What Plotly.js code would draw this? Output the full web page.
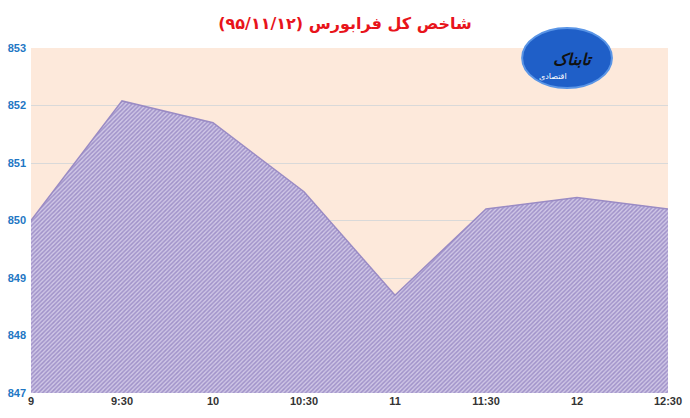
<!DOCTYPE html>
<html><head><meta charset="utf-8">
<script src="https://cdn.plot.ly/plotly-3.0.1.min.js"></script>
<style>html,body{margin:0;padding:0;background:#fff}#c{width:690px;height:418px}</style>
</head><body><div id="c"></div>
<script>
var times = ['9','9:30','10','10:30','11','11:30','12','12:30'];
var values = [850.0, 852.08, 851.7, 850.5, 848.7, 850.2, 850.4, 850.2];
var yTicks = [847, 848, 849, 850, 851, 852, 853];
var titleText = 'شاخص کل فرابورس (۹۵/۱۱/۱۲)';
var logoText = 'تابناک';
var logoSub = 'اقتصادی';

var trace = {
  x: times, y: values, type: 'scatter', mode: 'lines',
  fill: 'tozeroy',
  line: {color: '#9a8bc4', width: 1.5},
  fillcolor: '#cbc1e3',
  fillpattern: {shape: '/', bgcolor: '#d0c7e6', fgcolor: '#a092c9', size: 3, solidity: 0.5},
  hoverinfo: 'skip'
};
var layout = {
  width: 690, height: 418,
  margin: {l: 31, r: 22, t: 48, b: 25},
  paper_bgcolor: '#ffffff', plot_bgcolor: '#fde9db',
  showlegend: false,
  title: {text: titleText, x: 0.5, xanchor: 'center', y: 0.945, yanchor: 'middle',
          font: {family: 'DejaVu Sans', size: 16, color: '#e8141b', weight: 'bold'}},
  xaxis: {type: 'category', range: [0, 7], showgrid: false, zeroline: false,
          showline: false, ticks: '', ticklen: 0,
          tickfont: {family: 'Liberation Sans Narrow, Liberation Sans', size: 11, color: '#333333', weight: 'bold'}},
  yaxis: {range: [847, 853], tickvals: yTicks, showgrid: true, gridcolor: '#d9d9d9', gridwidth: 1,
          zeroline: false, showline: false, ticks: '', ticklabelstandoff: 4,
          tickfont: {family: 'Liberation Sans Narrow, Liberation Sans', size: 11, color: '#1f77c4', weight: 'bold'}},
  shapes: [
    {type: 'circle', xref: 'paper', yref: 'paper', layer: 'above',
     x0: 0.771, x1: 0.912, y0: 0.884, y1: 1.058,
     fillcolor: '#1f5fc8', line: {color: '#5a95e6', width: 2}}
  ],
  annotations: [
    {xref: 'paper', yref: 'paper', x: 0.885, y: 1.0, text: '<i>' + logoText + '</i>', showarrow: false,
     font: {family: 'DejaVu Sans', size: 16, color: '#111111', weight: 'bold'}},
    {xref: 'paper', yref: 'paper', x: 0.845, y: 0.935, text: logoSub, showarrow: false,
     font: {family: 'DejaVu Sans', size: 8, color: '#ffffff'}}
  ]
};
Plotly.newPlot('c', [trace], layout, {displayModeBar: false, staticPlot: true});
</script></body></html>
